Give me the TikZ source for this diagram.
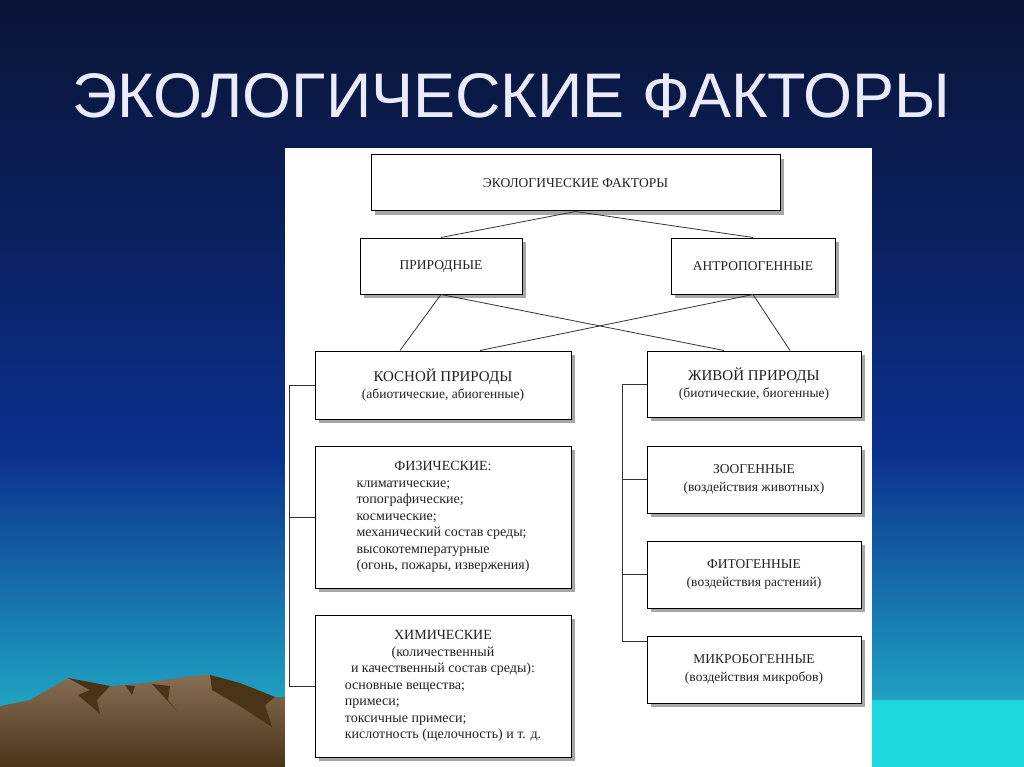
\documentclass[tikz,border=0pt]{standalone}
\usepackage{fontspec}
\setmainfont{Liberation Serif}
\newfontfamily\titlefont{Liberation Sans}
\definecolor{bgA}{HTML}{0A1436}
\definecolor{bgB}{HTML}{0B2F8C}
\definecolor{bgC}{HTML}{1E9CC0}
\definecolor{bgD}{HTML}{28C8D0}
\definecolor{mtn}{HTML}{7A5E42}
\definecolor{mtnD}{HTML}{4A3418}
\definecolor{txt}{HTML}{222222}
\usetikzlibrary{shadows}
\tikzset{
  fbox/.style={draw=black, line width=1pt, fill=white, align=center, text=txt, font=\fontsize{13.5}{15.5}\selectfont,
     drop shadow={shadow xshift=4pt, shadow yshift=-4pt, fill=gray!70, opacity=1}},
  conn/.style={draw=black!80, line width=0.8pt}
}
\begin{document}
\begin{tikzpicture}[x=1pt,y=-1pt]
\useasboundingbox (0,0) rectangle (1024,767);
\shade[top color=bgA, bottom color=bgA!60!bgB] (0,0) rectangle (1024,200.5);
\shade[top color=bgA!60!bgB, bottom color=bgB] (0,200) rectangle (1024,450.5);
\shade[top color=bgB, bottom color=bgC] (0,450) rectangle (1024,690.5);
\shade[top color=bgC, bottom color=bgD] (0,690) rectangle (1024,767);
\fill[bgD!70!cyan] (872,700) rectangle (1024,767);
% mountains
\shade[top color=mtn!90!white, bottom color=mtnD] (0,706) -- (30,700) -- (68,678) -- (110,686) -- (125,685) -- (145,683) -- (170,679) -- (200,675) -- (210,675) -- (240,683) -- (275,697) -- (285,697) -- (285,767) -- (0,767) -- cycle;
\fill[mtnD] (68,678) -- (110,686) -- (97,700) -- (100,714) -- (78,695) -- (90,690) -- cycle;
\fill[mtnD] (125,685) -- (135,686) -- (132,695) -- cycle;
\fill[mtnD] (152,684) -- (170,686) -- (168,700) -- (178,712) -- cycle;
\fill[mtnD] (210,675) -- (240,683) -- (275,697) -- (265,705) -- (272,727) -- (238,705) -- (212,690) -- cycle;
% title
\node[text=white!92!blue, font=\titlefont\fontsize{63}{65}\selectfont, drop shadow={shadow xshift=3pt, shadow yshift=-3pt, opacity=0}] (title) at (511,96) {ЭКОЛОГИЧЕСКИЕ ФАКТОРЫ};
% panel
\fill[white] (285,148) rectangle (872,767);
% boxes
\node[fbox, minimum width=409pt, minimum height=56pt] (eco) at (575.5,183) {ЭКОЛОГИЧЕСКИЕ ФАКТОРЫ};
\node[fbox, minimum width=162pt, minimum height=56pt] (prir) at (441,266) {ПРИРОДНЫЕ};
\node[fbox, minimum width=164pt, minimum height=56pt] (antr) at (753,266) {АНТРОПОГЕННЫЕ};
\node[fbox, minimum width=256pt, minimum height=68pt] (kos) at (443,385) {\fontsize{15}{17}\selectfont КОСНОЙ ПРИРОДЫ\\[1pt](абиотические, абиогенные)};
\node[fbox, minimum width=256pt, minimum height=142pt, font=\fontsize{14}{16.5}\selectfont] (fiz) at (443,517) {\begin{tabular}{@{}l@{}}\multicolumn{1}{c}{ФИЗИЧЕСКИЕ:}\\ климатические;\\ топографические;\\ космические;\\ механический состав среды;\\ высокотемпературные\\ (огонь, пожары, извержения)\end{tabular}};
\node[fbox, minimum width=256pt, minimum height=142pt, font=\fontsize{14}{16.5}\selectfont] (him) at (443,686) {\begin{tabular}{@{}l@{}}\multicolumn{1}{c}{ХИМИЧЕСКИЕ}\\ \multicolumn{1}{c}{(количественный}\\ \multicolumn{1}{c}{и качественный состав среды):}\\ основные вещества;\\ примеси;\\ токсичные примеси;\\ кислотность (щелочность) и т. д.\end{tabular}};
\node[fbox, minimum width=214pt, minimum height=66pt] (jiv) at (754,384) {\fontsize{15}{17}\selectfont ЖИВОЙ ПРИРОДЫ\\[1pt](биотические, биогенные)};
\node[fbox, minimum width=214pt, minimum height=67pt] (zoo) at (754,479.5) {ЗООГЕННЫЕ\\[2pt](воздействия животных)};
\node[fbox, minimum width=214pt, minimum height=67pt] (fit) at (754,574.5) {ФИТОГЕННЫЕ\\[2pt](воздействия растений)};
\node[fbox, minimum width=214pt, minimum height=67pt] (mik) at (754,669.5) {МИКРОБОГЕННЫЕ\\[2pt](воздействия микробов)};
% connectors
\draw[conn] (eco.south) -- (prir.north);
\draw[conn] (eco.south) -- (antr.north);
\draw[conn] (prir.south) -- ([xshift=-43pt]kos.north);
\draw[conn] (prir.south) -- ([xshift=-30pt]jiv.north);
\draw[conn] (antr.south) -- ([xshift=36pt]jiv.north);
\draw[conn] (antr.south) -- ([xshift=37pt]kos.north);
\coordinate (lb) at (289,0);
\draw[conn] (kos.west) -- (kos.west -| lb) -- (him.west -| lb) -- (him.west);
\draw[conn] (fiz.west -| lb) -- (fiz.west);
\coordinate (rb) at (622,0);
\draw[conn] (jiv.west) -- (jiv.west -| rb) -- ([yshift=28pt]mik.west -| rb) -- ([yshift=28pt]mik.west);
\draw[conn] (zoo.west -| rb) -- (zoo.west);
\draw[conn] (fit.west -| rb) -- (fit.west);
\end{tikzpicture}
\end{document}
